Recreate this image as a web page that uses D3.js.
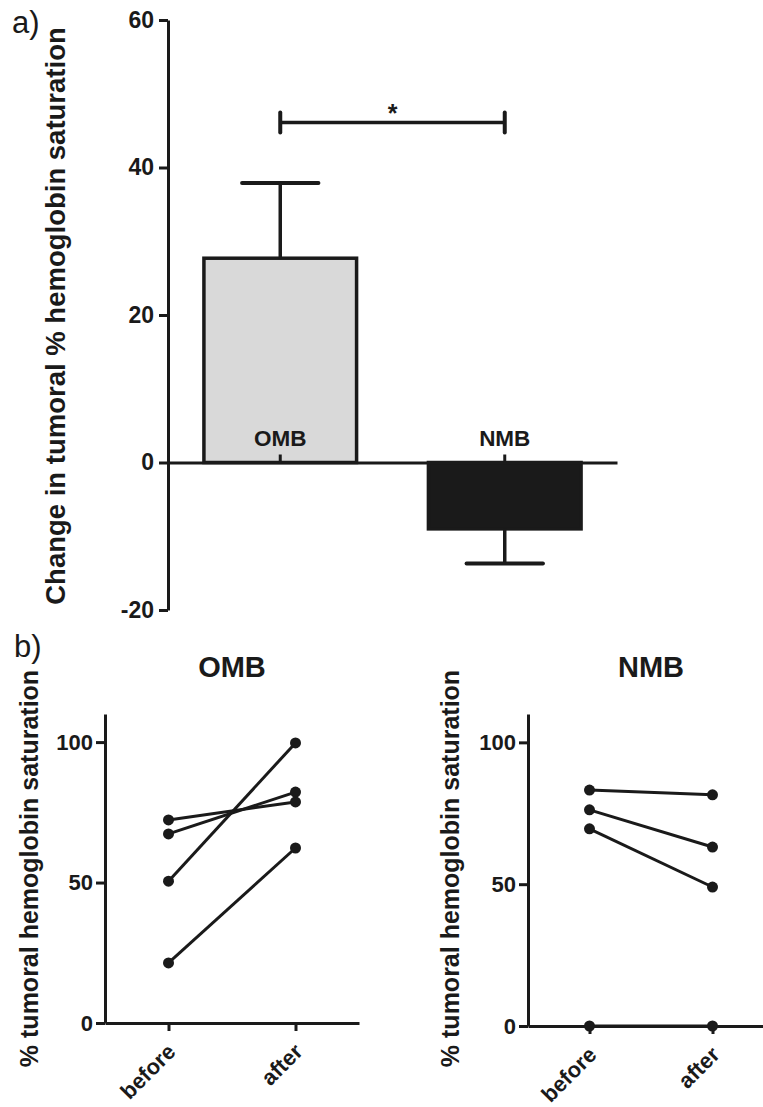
<!DOCTYPE html>
<html>
<head>
<meta charset="utf-8">
<script src="https://cdn.jsdelivr.net/npm/d3@7"></script>
<style>
  body { margin: 0; background: #fff; }
  svg { display: block; font-family: "Liberation Sans", Arial, sans-serif; }
  .axis path, .axis line { stroke: #1a1a1a; stroke-width: 3; }
  .axis text { fill: #1a1a1a; font-weight: bold; font-family: "Liberation Sans", Arial, sans-serif; }
</style>
</head>
<body>
<div id="plot"></div>
<script>
// a) change in saturation, mean +/- error
const groups = ["OMB", "NMB"];
const meanChange = [27.7, -9.0];
const errChange = [10.2, 4.7];
const changeTicks = [-20, 0, 20, 40, 60];
const sigLevel = 46.1; // height of the significance bracket

// b) paired before / after values
const timepoints = ["before", "after"];
const ombBefore = [72.3, 67.3, 50.5, 21.4];
const ombAfter = [78.7, 82.2, 99.7, 62.3];
const nmbBefore = [83.2, 76.2, 69.5, 0];
const nmbAfter = [81.5, 63.1, 49.0, 0];
const satTicks = [0, 50, 100];

const ink = "#1a1a1a";
const font = '"Liberation Sans", Arial, sans-serif';

const svg = d3.select("div#plot")
    .append("svg")
    .attr("width", 763)
    .attr("height", 1107);

// ---------- panel a ----------
const yA = d3.scaleLinear().domain([-20, 60]).range([610, 20]);
const xA = d3.scaleBand().domain(groups).range([168, 617])
    .paddingInner(0.32).paddingOuter(0.16);

svg.append("text")
    .attr("x", 12).attr("y", 33)
    .attr("font-size", 31)
    .attr("fill", ink)
    .text("a)");

svg.append("text")
    .attr("transform", `translate(65,${(25 + 607) / 2}) rotate(-90)`)
    .attr("text-anchor", "middle")
    .attr("font-size", 27.5)
    .attr("font-weight", "bold")
    .attr("fill", ink)
    .text("Change in tumoral % hemoglobin saturation");

// bars
svg.selectAll("rect.bar")
    .data(groups)
    .enter().append("rect")
    .attr("class", "bar")
    .attr("x", d => xA(d))
    .attr("y", (d, i) => yA(Math.max(0, meanChange[i])))
    .attr("width", xA.bandwidth())
    .attr("height", (d, i) => Math.abs(yA(meanChange[i]) - yA(0)))
    .attr("fill", (d, i) => i === 0 ? "#d9d9d9" : ink)
    .attr("stroke", ink)
    .attr("stroke-width", 3.5);

// error bars (one side only, away from zero)
groups.forEach((g, i) => {
    const cx = xA(g) + xA.bandwidth() / 2;
    const tip = meanChange[i] + Math.sign(meanChange[i]) * errChange[i];
    svg.append("line")
        .attr("x1", cx).attr("x2", cx)
        .attr("y1", yA(meanChange[i])).attr("y2", yA(tip))
        .attr("stroke", ink).attr("stroke-width", 3.5);
    svg.append("line")
        .attr("x1", cx - xA.bandwidth() / 4).attr("x2", cx + xA.bandwidth() / 4)
        .attr("y1", yA(tip)).attr("y2", yA(tip))
        .attr("stroke", ink).attr("stroke-width", 4)
        .attr("stroke-linecap", "round");
});

// y axis
svg.append("g")
    .attr("class", "axis")
    .attr("transform", "translate(168,0)")
    .attr("font-family", font)
    .call(d3.axisLeft(yA).tickValues(changeTicks).tickFormat(d => String(d))
        .tickSize(9).tickSizeOuter(0).tickPadding(5))
    .selectAll("text").attr("font-size", 23);

// zero line with group labels
svg.append("g")
    .attr("class", "axis")
    .attr("transform", `translate(0,${yA(0)})`)
    .call(d3.axisTop(xA).tickSize(8).tickSizeOuter(0).tickPadding(9))
    .attr("font-family", font)
    .call(g => g.select(".domain").attr("stroke-width", 2.5))
    .selectAll("text").attr("font-size", 22.5);

// significance bracket
const x1s = xA(groups[0]) + xA.bandwidth() / 2;
const x2s = xA(groups[1]) + xA.bandwidth() / 2;
svg.append("line")
    .attr("x1", x1s).attr("x2", x2s)
    .attr("y1", yA(sigLevel)).attr("y2", yA(sigLevel))
    .attr("stroke", ink).attr("stroke-width", 3.5);
[x1s, x2s].forEach(x => {
    svg.append("line")
        .attr("x1", x).attr("x2", x)
        .attr("y1", yA(sigLevel) - 10).attr("y2", yA(sigLevel) + 10)
        .attr("stroke", ink).attr("stroke-width", 4)
        .attr("stroke-linecap", "round");
});
svg.append("text")
    .attr("x", (x1s + x2s) / 2).attr("y", yA(sigLevel) - 1)
    .attr("text-anchor", "middle")
    .attr("font-size", 25)
    .attr("font-weight", "bold")
    .attr("fill", ink)
    .text("*");

// ---------- panel b ----------
svg.append("text")
    .attr("x", 14).attr("y", 657)
    .attr("font-size", 31)
    .attr("fill", ink)
    .text("b)");

function pairedPanel(title, before, after, left, right, zeroY, labelX) {
    const y = d3.scaleLinear().domain([0, 110]).range([zeroY, 714]);
    const x = d3.scalePoint().domain(timepoints).range([left, right]).padding(0.5);

    svg.append("text")
        .attr("x", (left + right) / 2).attr("y", 677)
        .attr("text-anchor", "middle")
        .attr("font-size", 29)
        .attr("font-weight", "bold")
        .attr("fill", ink)
        .text(title);

    svg.append("text")
        .attr("transform", `translate(${labelX},${(670 + 1067) / 2}) rotate(-90)`)
        .attr("text-anchor", "middle")
        .attr("font-size", 25)
        .attr("font-weight", "bold")
        .attr("fill", ink)
        .text("% tumoral hemoglobin saturation");

    svg.append("g")
        .attr("class", "axis")
        .attr("transform", `translate(${left},0)`)
        .call(d3.axisLeft(y).tickValues(satTicks).tickFormat(d => String(d))
            .tickSize(9).tickSizeOuter(0).tickPadding(3))
        .attr("font-family", font)
        .selectAll("text").attr("font-size", 22);

    svg.append("g")
        .attr("class", "axis")
        .attr("transform", `translate(0,${zeroY})`)
        .call(d3.axisBottom(x).tickSize(8).tickSizeOuter(0))
        .attr("font-family", font)
        .selectAll("text")
        .attr("font-size", 22)
        .attr("x", 0).attr("y", 0).attr("dy", 0)
        .attr("text-anchor", "end")
        .attr("transform", "translate(8,30) rotate(-45)");

    const pairs = before.map((b, i) => [b, after[i]]);

    svg.selectAll(null)
        .data(pairs)
        .enter().append("line")
        .attr("x1", x("before")).attr("x2", x("after"))
        .attr("y1", d => y(d[0])).attr("y2", d => y(d[1]))
        .attr("stroke", ink).attr("stroke-width", 3);

    svg.selectAll(null)
        .data(pairs.flatMap(d => [["before", d[0]], ["after", d[1]]]))
        .enter().append("circle")
        .attr("cx", d => x(d[0]))
        .attr("cy", d => y(d[1]))
        .attr("r", 5.5)
        .attr("fill", ink);
}

pairedPanel("OMB", ombBefore, ombAfter, 105, 359, 1023, 38);
pairedPanel("NMB", nmbBefore, nmbAfter, 528, 774, 1026, 459);
</script>
</body>
</html>
